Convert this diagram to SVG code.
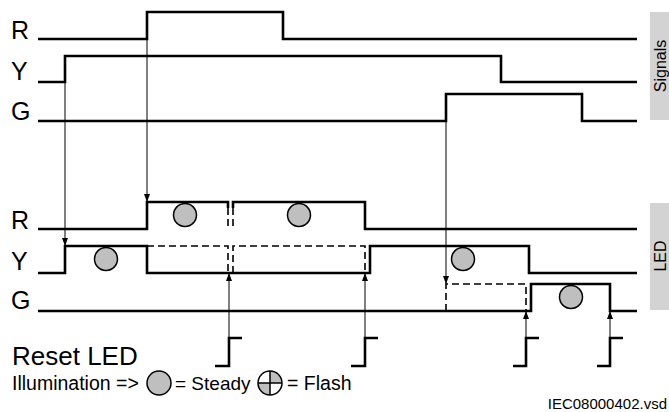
<svg xmlns="http://www.w3.org/2000/svg" width="669" height="412" viewBox="0 0 669 412">
<style>
.sig{fill:none;stroke:#000;stroke-width:2.6;stroke-linejoin:miter}
.dash{fill:none;stroke:#000;stroke-width:1.6;stroke-dasharray:7,4}
.arr{fill:none;stroke:#000;stroke-width:1}
.lbl{font-family:"Liberation Sans",Arial,sans-serif;font-size:25px;fill:#000}
.led{fill:#bfbfbf;stroke:#000;stroke-width:1.5}
.txt{font-family:"Liberation Sans",Arial,sans-serif;fill:#000}
.tab{fill:#d3d3d3}
</style>
<defs>
<marker id="ah" viewBox="0 0 8 8" refX="8" refY="4" markerWidth="8" markerHeight="8" markerUnits="userSpaceOnUse" orient="auto">
<path d="M0,1 L8,4 L0,7 Z" fill="#000"/>
</marker>
</defs>
<rect width="669" height="412" fill="#fff"/>

<g id="signals">
<text class="lbl" x="11" y="39">R</text>
<text class="lbl" x="11" y="80">Y</text>
<text class="lbl" x="11" y="120">G</text>
<path class="sig" d="M38,39 H147 V12 H283 V39 H637"/>
<path class="sig" d="M38,82 H65 V56 H501 V82 H637"/>
<path class="sig" d="M38,121 H446 V94 H582 V121 H637"/>
</g>

<g id="led">
<text class="lbl" x="11" y="229">R</text>
<text class="lbl" x="11" y="270">Y</text>
<text class="lbl" x="11" y="309">G</text>
<path class="sig" d="M38,229 H147 V202 H228 V208"/>
<path class="sig" d="M233,208 V202 H365 V229 H637"/>
<path class="dash" d="M228,208 V229 M233,208 V229"/>
<path class="sig" d="M38,273 H65 V246 H147 V273 H370 V246 H529 V273 H637"/>
<path class="dash" d="M147,246 H228 V273 M233,273 V246 H365 V273"/>
<path class="sig" d="M38,311 H531 V284 H610 V311 H637"/>
<path class="dash" d="M446,311 V284 H526 V311"/>
<circle class="led" cx="185" cy="215" r="11.5"/>
<circle class="led" cx="299" cy="215" r="11.5"/>
<circle class="led" cx="106" cy="259" r="11.5"/>
<circle class="led" cx="463" cy="259" r="11.5"/>
<circle class="led" cx="571" cy="297" r="11.5"/>
</g>

<g id="reset">
<text class="txt" x="12" y="365" font-size="26">Reset LED</text>
<path class="sig" d="M215,366 H229 V338 H242"/>
<path class="sig" d="M351,366 H365 V338 H378"/>
<path class="sig" d="M513,366 H526 V338 H539"/>
<path class="sig" d="M597,366 H610 V338 H623"/>
</g>

<g id="connectors">
<path class="arr" d="M65,82 V246" marker-end="url(#ah)"/>
<path class="arr" d="M147,39 V202" marker-end="url(#ah)"/>
<path class="arr" d="M446,121 V284" marker-end="url(#ah)"/>
<path class="arr" d="M229,338 V273" marker-end="url(#ah)"/>
<path class="arr" d="M365,338 V273" marker-end="url(#ah)"/>
<path class="arr" d="M526,338 V311" marker-end="url(#ah)"/>
<path class="arr" d="M610,338 V311" marker-end="url(#ah)"/>
</g>

<g id="legend">
<text class="txt" x="12" y="390" font-size="19.5">Illumination =&gt;</text>
<circle class="led" cx="159" cy="383" r="12"/>
<text class="txt" x="175" y="390" font-size="19">= Steady</text>
<circle cx="270" cy="383" r="12" fill="#fff"/>
<path d="M258,383 A12,12 0 0 0 270,395 V383 Z" fill="#bfbfbf"/>
<path d="M282,383 A12,12 0 0 0 270,371 V383 Z" fill="#bfbfbf"/>
<circle cx="270" cy="383" r="12" fill="none" stroke="#000" stroke-width="1.5"/>
<path d="M258,383 H282 M270,371 V395" stroke="#000" stroke-width="1.5"/>
<text class="txt" x="287" y="390" font-size="19.5">= Flash</text>
</g>

<g id="tabs">
<rect class="tab" x="650" y="12" width="19" height="108"/>
<text class="txt" font-size="16" transform="translate(666,66) rotate(-90)" text-anchor="middle">Signals</text>
<rect class="tab" x="650" y="203" width="19" height="107"/>
<text class="txt" font-size="16" transform="translate(666,256) rotate(-90)" text-anchor="middle">LED</text>
</g>

<text class="txt" x="667" y="409" font-size="15" text-anchor="end">IEC08000402.vsd</text>
</svg>
